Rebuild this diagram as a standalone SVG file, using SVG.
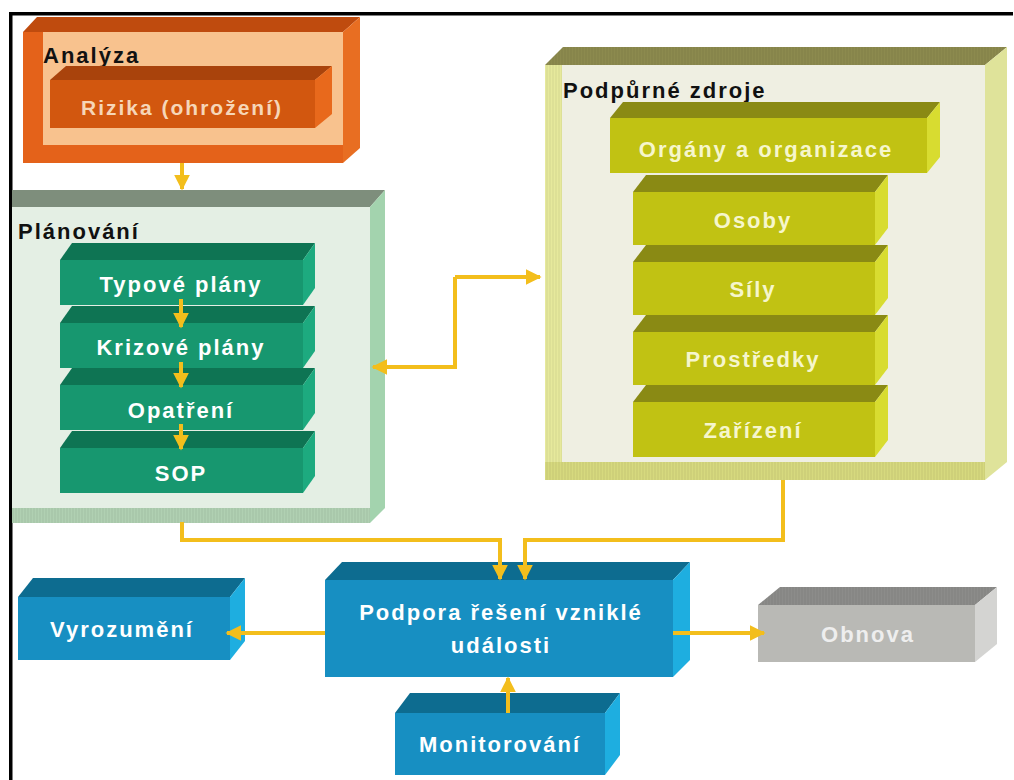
<svg xmlns="http://www.w3.org/2000/svg" width="1014" height="780" viewBox="0 0 1014 780">
<defs>
<style>
.lbl{font-family:"Liberation Sans",Arial,sans-serif;font-weight:bold;font-size:22px;letter-spacing:2px}
.hdr{fill:#111}
.wt{fill:#ffffff;text-anchor:middle}
.pe{fill:#F6D6B8;text-anchor:middle}
.yl{fill:#F6F6CC;text-anchor:middle}
.gy{fill:#EEEEEE;text-anchor:middle}
.con{fill:none;stroke:#F3BE1C;stroke-width:4;stroke-linejoin:miter}
.gf{fill:#17976F}.gt{fill:#0E7453}.gr{fill:#1DAA7F}
.of{fill:#C1C213}.ot{fill:#8A8A14}.or{fill:#D8DC30}
.bf{fill:#178FC2}.bt{fill:#0D6C90}.br{fill:#1EAEE0}
</style>
<marker id="ah" viewBox="0 0 10 10" refX="9" refY="5" markerWidth="4" markerHeight="4" orient="auto" markerUnits="strokeWidth">
<path d="M0,0 L10,5 L0,10 z" fill="#F3BE1C"/>
</marker>
<pattern id="hv" width="3" height="6" patternUnits="userSpaceOnUse">
<rect width="3" height="6" fill="none"/>
<line x1="1" y1="0" x2="1" y2="6" stroke="#000" stroke-opacity="0.08" stroke-width="1"/>
</pattern>
</defs>

<rect width="1014" height="780" fill="#ffffff"/>
<rect x="9" y="12" width="1004" height="3.5" fill="#000"/>
<rect x="9" y="12" width="3.5" height="768" fill="#000"/>

<g id="analyza">
<polygon points="23,32 343,32 360,17 37,17" fill="#BF4B0E"/>
<rect x="23" y="32" width="320" height="131" fill="#E4621A"/>
<rect x="43" y="32" width="300" height="113" fill="#F8C28E"/>
<polygon points="343,32 360,17 360,148 343,163" fill="#E86E22"/>
<text class="lbl hdr" x="43" y="63">Analýza</text>
</g>

<g id="rizika">
<polygon points="50,80 315,80 332,66 66,66" fill="#A9430C"/>
<rect x="50" y="80" width="265" height="48" fill="#D2570F"/>
<polygon points="315,80 332,66 332,114 315,128" fill="#E8691C"/>
<text class="lbl pe" x="182" y="115" style="font-size:21px">Rizika (ohrožení)</text>
</g>

<g id="planovani">
<polygon points="12,207 370,207 385,190 12,190" fill="#7E8E7C"/>
<rect x="12" y="207" width="358" height="301" fill="#E4EFE4"/>
<rect x="12" y="508" width="358" height="15" fill="#B0D0B2"/>
<rect x="12" y="508" width="358" height="15" fill="url(#hv)"/>
<polygon points="370,207 385,190 385,508 370,523" fill="#A3D3AE"/>
<text class="lbl hdr" x="18" y="239">Plánování</text>
</g>

<g id="typove">
<polygon points="60,260 303,260 315,243 72,243" class="gt"/>
<rect x="60" y="260" width="243" height="45" class="gf"/>
<polygon points="303,260 315,243 315,288 303,305" class="gr"/>
<text class="lbl wt" x="181" y="292">Typové plány</text>
</g>
<g id="krizove">
<polygon points="60,323 303,323 315,306 72,306" class="gt"/>
<rect x="60" y="323" width="243" height="45" class="gf"/>
<polygon points="303,323 315,306 315,351 303,368" class="gr"/>
<text class="lbl wt" x="181" y="355">Krizové plány</text>
</g>
<g id="opatreni">
<polygon points="60,385 303,385 315,368 72,368" class="gt"/>
<rect x="60" y="385" width="243" height="45" class="gf"/>
<polygon points="303,385 315,368 315,413 303,430" class="gr"/>
<text class="lbl wt" x="181" y="418">Opatření</text>
</g>
<g id="sop">
<polygon points="60,448 303,448 315,431 72,431" class="gt"/>
<rect x="60" y="448" width="243" height="45" class="gf"/>
<polygon points="303,448 315,431 315,476 303,493" class="gr"/>
<text class="lbl wt" x="181" y="481">SOP</text>
</g>

<g id="podpurne">
<polygon points="545,65 985,65 1007,47 563,47" fill="#8C8A4E"/>
<polygon points="545,65 985,65 1007,47 563,47" fill="url(#hv)"/>
<rect x="545" y="65" width="440" height="415" fill="#EFEFE2"/>
<rect x="545" y="65" width="17" height="415" fill="#E6E99C"/>
<rect x="545" y="65" width="17" height="415" fill="url(#hv)"/>
<rect x="545" y="462" width="440" height="18" fill="#D6D97E"/>
<rect x="545" y="462" width="440" height="18" fill="url(#hv)"/>
<polygon points="985,65 1007,47 1007,462 985,480" fill="#DFE39A"/>
<text class="lbl hdr" x="563" y="98">Podpůrné zdroje</text>
</g>

<g id="organy">
<polygon points="610,118 927,118 940,102 623,102" class="ot"/>
<rect x="610" y="118" width="317" height="55" class="of"/>
<polygon points="927,118 940,102 940,157 927,173" class="or"/>
<text class="lbl yl" x="766" y="157">Orgány a organizace</text>
</g>
<g id="osoby">
<polygon points="633,192 875,192 888,175 646,175" class="ot"/>
<rect x="633" y="192" width="242" height="53" class="of"/>
<polygon points="875,192 888,175 888,228 875,245" class="or"/>
<text class="lbl yl" x="753" y="228">Osoby</text>
</g>
<g id="sily">
<polygon points="633,262 875,262 888,245 646,245" class="ot"/>
<rect x="633" y="262" width="242" height="53" class="of"/>
<polygon points="875,262 888,245 888,298 875,315" class="or"/>
<text class="lbl yl" x="753" y="297">Síly</text>
</g>
<g id="prostredky">
<polygon points="633,332 875,332 888,315 646,315" class="ot"/>
<rect x="633" y="332" width="242" height="53" class="of"/>
<polygon points="875,332 888,315 888,368 875,385" class="or"/>
<text class="lbl yl" x="753" y="367">Prostředky</text>
</g>
<g id="zarizeni">
<polygon points="633,402 875,402 888,385 646,385" class="ot"/>
<rect x="633" y="402" width="242" height="55" class="of"/>
<polygon points="875,402 888,385 888,440 875,457" class="or"/>
<text class="lbl yl" x="753" y="438">Zařízení</text>
</g>

<g id="podpora">
<polygon points="325,580 673,580 690,562 342,562" class="bt"/>
<rect x="325" y="580" width="348" height="97" class="bf"/>
<polygon points="673,580 690,562 690,660 673,677" class="br"/>
<text class="lbl wt" x="501" y="620">Podpora řešení vzniklé</text>
<text class="lbl wt" x="501" y="653">události</text>
</g>

<g id="vyrozumeni">
<polygon points="18,597 230,597 245,578 33,578" class="bt"/>
<rect x="18" y="597" width="212" height="63" class="bf"/>
<polygon points="230,597 245,578 245,641 230,660" class="br"/>
<text class="lbl wt" x="122" y="637">Vyrozumění</text>
</g>

<g id="monitorovani">
<polygon points="395,713 605,713 620,693 410,693" class="bt"/>
<rect x="395" y="713" width="210" height="62" class="bf"/>
<polygon points="605,713 620,693 620,755 605,775" class="br"/>
<text class="lbl wt" x="500" y="752">Monitorování</text>
</g>

<g id="obnova">
<polygon points="758,605 975,605 997,587 780,587" fill="#8C8C8A"/>
<polygon points="758,605 975,605 997,587 780,587" fill="url(#hv)"/>
<rect x="758" y="605" width="217" height="57" fill="#B9B9B5"/>
<polygon points="975,605 997,587 997,644 975,662" fill="#D4D4D2"/>
<text class="lbl gy" x="868" y="642">Obnova</text>
</g>

<g id="connectors">
<path class="con" d="M182,163 L182,189" marker-end="url(#ah)"/>
<path class="con" d="M181,299 L181,327" marker-end="url(#ah)"/>
<path class="con" d="M181,362 L181,387" marker-end="url(#ah)"/>
<path class="con" d="M181,424 L181,449" marker-end="url(#ah)"/>
<path class="con" d="M455,277 L540,277" marker-end="url(#ah)"/>
<path class="con" d="M455,277 L455,367 L373,367" marker-end="url(#ah)"/>
<path class="con" d="M182,522 L182,540 L500,540 L500,579" marker-end="url(#ah)"/>
<path class="con" d="M783,480 L783,540 L525,540 L525,579" marker-end="url(#ah)"/>
<path class="con" d="M325,633 L227,633" marker-end="url(#ah)"/>
<path class="con" d="M673,633 L764,633" marker-end="url(#ah)"/>
<path class="con" d="M508,713 L508,678" marker-end="url(#ah)"/>
</g>
</svg>
